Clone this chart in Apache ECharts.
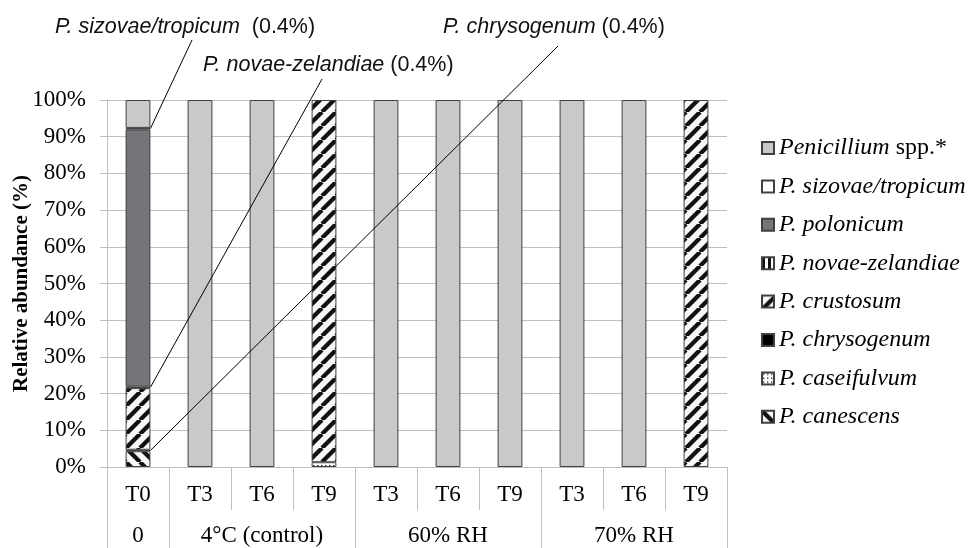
<!DOCTYPE html>
<html>
<head>
<meta charset="utf-8">
<script src="https://cdn.jsdelivr.net/npm/echarts@6/dist/echarts.min.js"></script>
<style>
html,body{margin:0;padding:0;background:#fff;}
#chart{width:969px;height:548px;}
</style>
</head>
<body>
<div id="chart"></div>
<script>
// ---------------- DATA ----------------
const categories = ['T0','T3','T6','T9','T3','T6','T9','T3','T6','T9'];
const groupNames = ['0','4°C (control)','60% RH','70% RH'];
const groupSizes = [1,3,3,3];
const yTicks = { min: 0, max: 100, interval: 10 };

// stacked from bottom to top
const canescens   = [4.3, 0, 0, 0,    0, 0, 0, 0, 0, 0];
const caseifulvum = [0,   0, 0, 1.3,  0, 0, 0, 0, 0, 0];
const chrysogenum = [0.4, 0, 0, 0,    0, 0, 0, 0, 0, 0];
const crustosum   = [16.8,0, 0, 98.7, 0, 0, 0, 0, 0, 100];
const novaeZel    = [0.4, 0, 0, 0,    0, 0, 0, 0, 0, 0];
const polonicum   = [70.1,0, 0, 0,    0, 0, 0, 0, 0, 0];
const sizovae     = [0.4, 0, 0, 0,    0, 0, 0, 0, 0, 0];
const penSpp      = [7.6, 100, 100, 0, 100, 100, 100, 100, 100, 0];

const seriesNames = ['P. canescens','P. caseifulvum','P. chrysogenum','P. crustosum',
  'P. novae-zelandiae','P. polonicum','P. sizovae/tropicum','Penicillium spp.*'];
const seriesValues = [canescens, caseifulvum, chrysogenum, crustosum, novaeZel, polonicum, sizovae, penSpp];

const callouts = [
  { series: 'P. sizovae/tropicum', cat: 0, name: 'P. sizovae/tropicum', pct: '(0.4%)', sep: '  ' },
  { series: 'P. novae-zelandiae', cat: 0, name: 'P. novae-zelandiae', pct: '(0.4%)', sep: ' ' },
  { series: 'P. chrysogenum', cat: 0, name: 'P. chrysogenum', pct: '(0.4%)', sep: ' ' }
];
// --------------------------------------

function makePattern(draw, w, h) {
  const c = document.createElement('canvas');
  c.width = w; c.height = h;
  const ctx = c.getContext('2d');
  draw(ctx, w, h);
  return { image: c, repeat: 'repeat' };
}
function diag(dir) {
  return makePattern((ctx, w, h) => {
    ctx.fillStyle = '#f7f7f7'; ctx.fillRect(0, 0, w, h);
    ctx.strokeStyle = '#111'; ctx.lineWidth = 4.2;
    for (let k = -1; k <= 1; k++) {
      ctx.beginPath();
      if (dir > 0) { ctx.moveTo(k * w, h); ctx.lineTo(k * w + w, 0); }
      else { ctx.moveTo(k * w, 0); ctx.lineTo(k * w + w, h); }
      ctx.stroke();
    }
  }, 14, 14);
}
const patCrust = diag(1);
const patCanes = diag(-1);
const patDots = makePattern((ctx, w, h) => {
  ctx.fillStyle = '#fff'; ctx.fillRect(0, 0, w, h);
  ctx.fillStyle = '#222'; ctx.fillRect(1, 1, 1.4, 1.4);
}, 4, 4);
const patVert = makePattern((ctx, w, h) => {
  ctx.fillStyle = '#111'; ctx.fillRect(0, 0, w, h);
  ctx.fillStyle = '#fff'; ctx.fillRect(3, 0, 3, h);
}, 6, 6);

const fills = {
  'P. canescens': patCanes,
  'P. caseifulvum': patDots,
  'P. chrysogenum': '#000000',
  'P. crustosum': patCrust,
  'P. novae-zelandiae': patVert,
  'P. polonicum': '#747578',
  'P. sizovae/tropicum': '#ffffff',
  'Penicillium spp.*': '#c8c9cb'
};

// group label row: label at middle category of each group
const groupLabels = [];
groupNames.forEach((g, i) => {
  for (let k = 0; k < groupSizes[i]; k++) groupLabels.push(k === Math.floor(groupSizes[i] / 2) ? g : '');
});

const SERIF = '"Liberation Serif", "Times New Roman", serif';
const SANS = '"Liberation Sans", Arial, sans-serif';
const GRID = '#bfbfbf';
const AX_FS = 23;
const LEG_FS = 24;

const chart = echarts.init(document.getElementById('chart'), null, { renderer: 'canvas' });

const option = {
  animation: false,
  backgroundColor: '#fff',
  grid: { left: 107, right: 242, top: 100, bottom: 81, containLabel: false, outerBoundsMode: 'none' },
  legend: {
    orient: 'vertical',
    left: 756,
    top: 131,
    padding: 5,
    itemWidth: 12,
    itemHeight: 12,
    itemGap: 14.4,
    icon: 'rect',
    data: seriesNames.slice().reverse(),
    formatter: name => name === 'Penicillium spp.*' ? '{i|Penicillium} {n|spp.*}' : '{i|' + name + '}',
    textStyle: {
      fontFamily: SERIF, fontSize: LEG_FS, color: '#000', lineHeight: 24,
      rich: {
        i: { fontFamily: SERIF, fontSize: LEG_FS, fontStyle: 'italic', color: '#000', lineHeight: 24 },
        n: { fontFamily: SERIF, fontSize: LEG_FS, color: '#000', lineHeight: 24 }
      }
    }
  },
  xAxis: [
    {
      type: 'category',
      data: categories,
      axisLine: { show: true, lineStyle: { color: GRID, width: 1 } },
      axisTick: { show: true, interval: 0, length: 43, lineStyle: { color: GRID, width: 1 } },
      axisLabel: { interval: 0, margin: 16, fontFamily: SERIF, fontSize: AX_FS, color: '#000' }
    },
    {
      type: 'category',
      data: groupLabels,
      position: 'bottom',
      axisLine: { show: false },
      axisTick: { show: false },
      splitLine: { show: false },
      axisLabel: { interval: 0, margin: 57, fontFamily: SERIF, fontSize: AX_FS, color: '#000' }
    }
  ],
  yAxis: {
    type: 'value',
    min: yTicks.min, max: yTicks.max, interval: yTicks.interval,
    name: 'Relative abundance (%)',
    nameLocation: 'middle',
    nameGap: 75,
    nameMoveOverlap: false,
    nameTextStyle: { fontFamily: SERIF, fontSize: 21, fontWeight: 'bold', color: '#000' },
    axisLine: { show: true, lineStyle: { color: GRID, width: 1 } },
    axisTick: { show: true, length: 7, lineStyle: { color: GRID, width: 1 } },
    splitLine: { show: true, lineStyle: { color: GRID, width: 1 } },
    axisLabel: { margin: 21, formatter: '{value}%', fontFamily: SERIF, fontSize: AX_FS, color: '#000' }
  },
  series: seriesNames.map((name, i) => ({
    name: name,
    type: 'bar',
    stack: 'total',
    barWidth: '40%',
    xAxisIndex: 0,
    data: seriesValues[i].map(v => v === 0 ? '-' : v),
    itemStyle: { color: fills[name], borderColor: '#404040', borderWidth: 1 },
    emphasis: { disabled: true }
  }))
};
chart.setOption(option);

// separators and callouts computed from the axes
const x0 = chart.convertToPixel({ xAxisIndex: 0 }, 0);
const step = chart.convertToPixel({ xAxisIndex: 0 }, 1) - x0;
const yZero = chart.convertToPixel({ yAxisIndex: 0 }, 0);
const graphics = [];
let idx = 0;
const bounds = [0];
groupSizes.forEach(s => { idx += s; bounds.push(idx); });
bounds.forEach(b => {
  const x = Math.round(x0 - step / 2 + b * step) + 0.5;
  graphics.push({ type: 'line', shape: { x1: x, y1: yZero, x2: x, y2: 548 }, style: { stroke: GRID, lineWidth: 1 }, silent: true });
});

const anchors = {
  'P. sizovae/tropicum': { tx: 55, ty: 27, lx: 192, ly: 40 },
  'P. novae-zelandiae': { tx: 203, ty: 65, lx: 322, ly: 79 },
  'P. chrysogenum': { tx: 443, ty: 27, lx: 558, ly: 46 }
};
callouts.forEach(c => {
  const sIdx = seriesNames.indexOf(c.series);
  let below = 0;
  for (let k = 0; k < sIdx; k++) below += seriesValues[k][c.cat];
  const mid = below + seriesValues[sIdx][c.cat] / 2;
  const cx = chart.convertToPixel({ xAxisIndex: 0 }, c.cat);
  const barX = cx + step * 0.4 / 2;
  const barY = chart.convertToPixel({ yAxisIndex: 0 }, mid);
  const a = anchors[c.series];
  graphics.push({ type: 'line', z: 100, shape: { x1: a.lx, y1: a.ly, x2: barX, y2: barY }, style: { stroke: '#000', lineWidth: 1 }, silent: true });
  graphics.push({
    type: 'text', z: 100, x: a.tx, y: a.ty, silent: true,
    style: {
      text: '{i|' + c.name + '}' + c.sep + '{n|' + c.pct + '}',
      verticalAlign: 'middle', align: 'left',
      font: '21.5px ' + SANS, fill: '#111',
      rich: {
        i: { fontFamily: SANS, fontSize: 21.5, fontStyle: 'italic', fill: '#111' },
        n: { fontFamily: SANS, fontSize: 21.5, fill: '#111' }
      }
    }
  });
});
chart.setOption({ graphic: graphics });
</script>
</body>
</html>
